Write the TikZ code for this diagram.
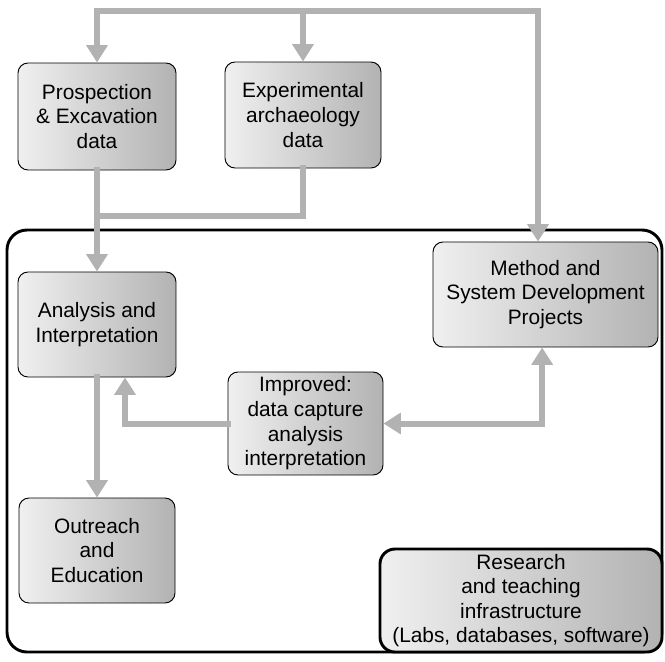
\documentclass[tikz,border=0pt]{standalone}
\usepackage{fontspec}
\setmainfont{Liberation Sans}
\usepackage{tikz}
\usepackage{xcolor}
\usetikzlibrary{shapes,arrows.meta,positioning,calc}

\begin{document}
\begin{tikzpicture}[x=0.03cm, y=-0.03cm,
  >={Triangle[width=0.62cm, length=0.52cm]},
  box/.style={rectangle, draw, rounded corners=0.3cm, line width=0.8pt,
    left color=gray!12, right color=gray!60, align=center, inner sep=0pt,
    font=\fontsize{17.8}{21}\selectfont},
  flowline/.style={draw=gray!60, line width=0.18cm, line cap=rect},
  flow/.style={flowline, ->}]
\useasboundingbox (0,0) rectangle (665,661);

% Ambito
\draw[line width=2.5pt, rounded corners=0.6cm] (7,230) rectangle (662,652);

% Dati
\node[box, minimum width=4.74cm, minimum height=3.21cm] (pros) at (97,116.5) {Prospection\\\& Excavation\\data};
\node[box, minimum width=4.68cm, minimum height=3.18cm] (expe) at (303,115) {Experimental\\archaeology\\data};

% Progetti
\node[box, minimum width=4.74cm, minimum height=3.15cm] (ana) at (97,324.5) {Analysis and\\Interpretation};
\node[box, minimum width=6.75cm, minimum height=3.15cm] (meth) at (545.5,294.5) {Method and\\System Development\\Projects};
\node[box, minimum width=4.65cm, minimum height=3.09cm] (imp) at (305.5,423.5) {Improved:\\data capture\\analysis\\interpretation};
\node[box, minimum width=4.68cm, minimum height=3.15cm] (outr) at (97,550.5) {Outreach\\and\\Education};
\node[box, line width=2.5pt, rounded corners=0.45cm, minimum width=8.46cm, minimum height=3.09cm] (res) at (521,600.5) {Research\\and teaching\\infrastructure\\(Labs, databases, software)};

% Frecce
\coordinate (topL) at (97,11);
\coordinate (topR) at (538,11);
\coordinate (merge) at (97,216);
\draw[flowline] (topL) -- (topR);
\draw[flow] (topL) -- (pros);
\draw[flow] (expe |- topL) -- (expe);
\draw[flow] (topR) -- (topR |- meth.north);
\draw[flowline] (expe.south) |- (merge);
\draw[flow] (pros) -- (ana);
\draw[flow] (ana) -- (outr);
\draw[flow] (imp.west) -| ([xshift=0.84cm]ana.south);
\draw[flow, <->] (imp.east) -| ([xshift=-0.1cm]meth.south);
\end{tikzpicture}
\end{document}
